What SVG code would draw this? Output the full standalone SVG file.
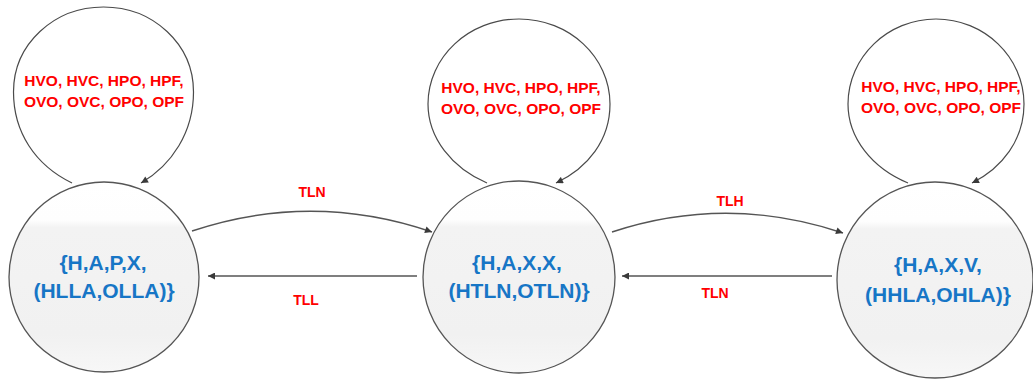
<svg xmlns="http://www.w3.org/2000/svg" width="1033" height="381" viewBox="0 0 1033 381">
<defs>
<linearGradient id="bg" x1="0" y1="0" x2="0" y2="1">
<stop offset="0" stop-color="#ffffff"/>
<stop offset="0.2" stop-color="#fefefe"/>
<stop offset="0.24" stop-color="#f3f3f3"/>
<stop offset="0.8" stop-color="#f1f1f1"/>
<stop offset="1" stop-color="#f7f7f7"/>
</linearGradient>
<marker id="arr" viewBox="0 0 10 10" refX="10" refY="5" markerWidth="9" markerHeight="7" markerUnits="userSpaceOnUse" orient="auto">
<path d="M0,0 L10,5 L0,10 Z" fill="#3a3a3a"/>
</marker>
<style>
.loop{fill:none;stroke:#4a4a4a;stroke-width:1.2}
.edge{fill:none;stroke:#555;stroke-width:1.4}
.state{fill:url(#bg);stroke:#555;stroke-width:1.3}
.ev{font-family:"Liberation Sans",Arial,sans-serif;font-weight:bold;font-size:15.5px;fill:#ff0000;text-anchor:middle}
.lbl{font-family:"Liberation Sans",Arial,sans-serif;font-weight:bold;font-size:14px;fill:#ff0000;text-anchor:middle}
.st{font-family:"Liberation Sans",Arial,sans-serif;font-weight:bold;font-size:21px;fill:#1776c6;text-anchor:middle}
</style>
</defs>
<g id="connectors">
<path class="loop" marker-end="url(#arr)" d="M72,183 C35,165 13.5,132 13.5,92 C13.5,44 54,7 103.5,7 C153,7 193.5,44 193.5,92 C193.5,132 172,165 141,183"/>
<path class="loop" marker-end="url(#arr)" d="M487,183 C452,168 428,138 428,104 C428,57 469,19 519,19 C569,19 610,57 610,104 C610,140 588,168 556,183"/>
<path class="loop" marker-end="url(#arr)" d="M908,183 C872,168 848,138 848,104 C848,57 888,19 936,19 C984,19 1024,57 1024,104 C1024,140 1002,168 972,183"/>
<path class="edge" marker-end="url(#arr)" d="M192,231 Q312,191 432,232"/>
<path class="edge" marker-end="url(#arr)" d="M612,232 Q727,194 843,233"/>
<path class="edge" marker-end="url(#arr)" d="M417,276 L208,276"/>
<path class="edge" marker-end="url(#arr)" d="M832,276 L622,276"/>
<text class="lbl" x="312" y="197">TLN</text>
<text class="lbl" x="306" y="305">TLL</text>
<text class="lbl" x="730" y="206">TLH</text>
<text class="lbl" x="715" y="298">TLN</text>
<text class="ev" x="104" y="86">HVO, HVC, HPO, HPF,</text>
<text class="ev" x="104" y="107">OVO, OVC, OPO, OPF</text>
<text class="ev" x="521" y="93">HVO, HVC, HPO, HPF,</text>
<text class="ev" x="521" y="114">OVO, OVC, OPO, OPF</text>
<text class="ev" x="941" y="92">HVO, HVC, HPO, HPF,</text>
<text class="ev" x="941" y="113">OVO, OVC, OPO, OPF</text>
</g>
<g id="state-hlla">
<circle class="state" cx="104" cy="277" r="95"/>
<text class="st" x="103" y="270">{H,A,P,X,</text>
<text class="st" x="104" y="298">(HLLA,OLLA)}</text>
</g>
<g id="state-htln">
<circle class="state" cx="519" cy="277" r="96"/>
<text class="st" x="517" y="270">{H,A,X,X,</text>
<text class="st" x="519" y="298">(HTLN,OTLN)}</text>
</g>
<g id="state-hhla">
<circle class="state" cx="935" cy="280" r="98"/>
<text class="st" x="938" y="272">{H,A,X,V,</text>
<text class="st" x="938" y="302">(HHLA,OHLA)}</text>
</g>
</svg>
